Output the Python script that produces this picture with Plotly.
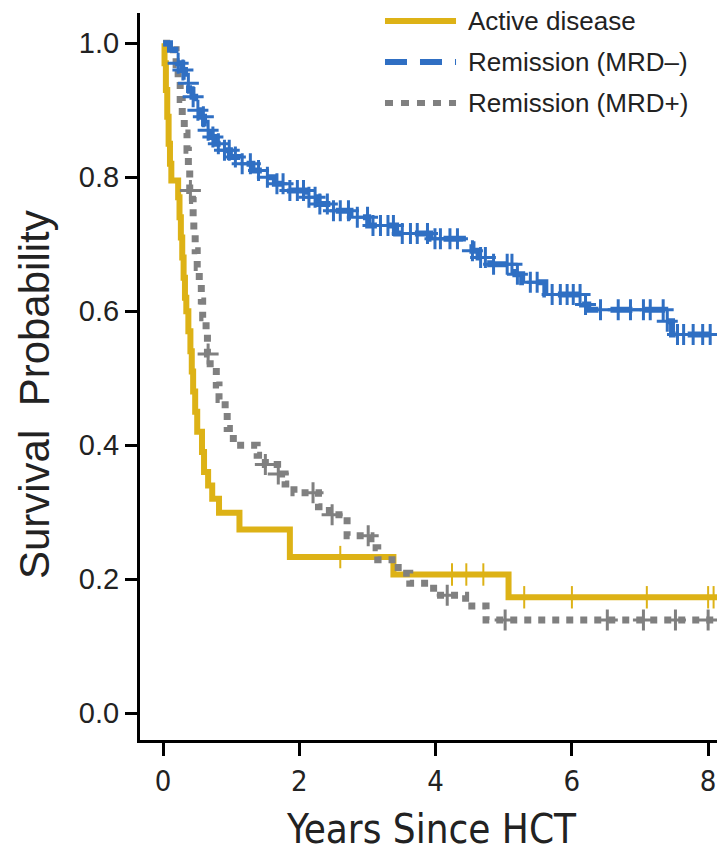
import numpy as np
import plotly.graph_objects as go

# Kaplan-Meier step curves: event times (years) and survival after each step
active_t = [0.0, 0.02, 0.04, 0.06, 0.08, 0.10, 0.12, 0.22, 0.24, 0.26, 0.28, 0.30, 0.32,
            0.34, 0.37, 0.40, 0.42, 0.44, 0.47, 0.50, 0.57, 0.60, 0.66, 0.72, 0.82,
            1.12, 1.86, 3.38, 5.07]
active_s = [1.0, 0.97, 0.93, 0.89, 0.85, 0.82, 0.795, 0.77, 0.74, 0.71, 0.68, 0.65, 0.62,
            0.60, 0.57, 0.54, 0.51, 0.48, 0.45, 0.42, 0.39, 0.36, 0.34, 0.32, 0.299,
            0.274, 0.233, 0.207, 0.173]
active_cens = [2.60, 4.24, 4.45, 4.70, 5.30, 6.00, 7.10, 8.00, 8.08]

neg_t = [0.0, 0.10, 0.18, 0.22, 0.28, 0.32, 0.35, 0.38, 0.43, 0.47, 0.51, 0.56, 0.60,
         0.65, 0.71, 0.78, 0.87, 0.98, 1.13, 1.31, 1.45, 1.64, 1.86, 2.09, 2.28, 2.50,
         2.75, 3.01, 3.42, 3.92, 4.40, 4.54, 4.63, 4.80, 5.17, 5.27, 5.61, 6.15, 6.24,
         7.37, 7.47]
neg_s = [1.0, 0.99, 0.98, 0.97, 0.96, 0.95, 0.94, 0.93, 0.92, 0.91, 0.90, 0.89, 0.88,
         0.87, 0.86, 0.85, 0.84, 0.83, 0.82, 0.81, 0.80, 0.79, 0.78, 0.77, 0.76, 0.75,
         0.74, 0.728, 0.716, 0.708, 0.70, 0.69, 0.68, 0.67, 0.655, 0.643, 0.625, 0.61,
         0.602, 0.585, 0.565]
neg_cens = [0.22, 0.29, 0.37, 0.44, 0.51, 0.59, 0.66, 0.73, 0.81, 0.90, 0.97, 1.06,
            1.16, 1.28, 1.40, 1.53, 1.67, 1.76, 1.86, 1.97, 2.06, 2.14, 2.23, 2.30,
            2.41, 2.50, 2.60, 2.72, 2.85, 3.00, 3.08, 3.19, 3.30, 3.38, 3.51, 3.63,
            3.73, 3.88, 3.99, 4.07, 4.21, 4.32, 4.54, 4.66, 4.73, 4.85, 5.05, 5.12,
            5.20, 5.39, 5.49, 5.71, 5.83, 5.93, 6.02, 6.12, 6.20, 6.42, 6.68, 6.86,
            7.05, 7.15, 7.34, 7.40, 7.55, 7.64, 7.78, 7.92, 8.03]

pos_t = [0.0, 0.15, 0.19, 0.22, 0.25, 0.28, 0.31, 0.35, 0.37, 0.39, 0.43, 0.44, 0.45,
         0.47, 0.50, 0.53, 0.56, 0.58, 0.63, 0.65, 0.69, 0.78, 0.82, 0.91, 0.94, 1.03,
         1.38, 1.50, 1.68, 1.79, 1.92, 2.28, 2.44, 2.70, 3.05, 3.15, 3.45, 3.62, 3.97,
         4.44, 4.74]
pos_s = [1.0, 0.99, 0.968, 0.943, 0.916, 0.89, 0.866, 0.84, 0.815, 0.78, 0.765, 0.74,
         0.715, 0.69, 0.665, 0.64, 0.615, 0.59, 0.565, 0.536, 0.51, 0.49, 0.468, 0.45,
         0.425, 0.40, 0.385, 0.371, 0.357, 0.342, 0.329, 0.308, 0.296, 0.265, 0.247,
         0.229, 0.209, 0.194, 0.176, 0.16, 0.139]
pos_cens = [0.40, 0.66, 1.50, 1.69, 2.20, 2.48, 3.01, 4.17, 5.02, 6.52, 7.05, 7.52, 8.00]

follow_up_end = 8.2

x_ticks = [0, 2, 4, 6, 8]
y_ticks = [0.0, 0.2, 0.4, 0.6, 0.8, 1.0]
legend_names = ["Active disease", "Remission (MRD\u2013)", "Remission (MRD+)"]

GOLD = "#DDB216"
BLUE = "#2F6FC3"
GRAY = "#808080"
TEXT = "#222222"
CONDENSED = "'DejaVu Sans Condensed', 'Roboto Condensed', Roboto, sans-serif"


def surv_at(times, surv, t):
    idx = np.searchsorted(np.asarray(times), np.asarray(t), side="right") - 1
    return np.asarray(surv)[idx]


def curve(times, surv, color, dash, width):
    return go.Scatter(
        x=list(times) + [follow_up_end],
        y=list(surv) + [surv[-1]],
        mode="lines",
        line=dict(color=color, width=width, dash=dash, shape="hv"),
        hoverinfo="skip",
        showlegend=False,
    )


def censor(times, surv, cens, color, symbol, size, lw):
    return go.Scatter(
        x=cens,
        y=surv_at(times, surv, cens),
        mode="markers",
        marker=dict(symbol=symbol, size=size, color=color,
                    line=dict(color=color, width=lw)),
        hoverinfo="skip",
        showlegend=False,
        cliponaxis=True,
    )


fig = go.Figure()
fig.add_trace(curve(active_t, active_s, GOLD, "solid", 6))
fig.add_trace(censor(active_t, active_s, active_cens, GOLD, "line-ns", 16, 2))
fig.add_trace(curve(pos_t, pos_s, GRAY, "7px,7px", 7))
fig.add_trace(censor(pos_t, pos_s, pos_cens, GRAY, "cross-thin", 15, 3))
fig.add_trace(curve(neg_t, neg_s, BLUE, "22px,12px", 6))
fig.add_trace(censor(neg_t, neg_s, neg_cens, BLUE, "cross-thin", 15, 3))

# legend drawn as line samples plus labels
legend_y = [0.989, 0.9326, 0.8762]
legend_styles = [(GOLD, "solid"), (BLUE, "22px,13px"), (GRAY, "8px,8px")]
for name, yv, (col, dsh) in zip(legend_names, legend_y, legend_styles):
    fig.add_shape(type="line", xref="paper", yref="paper",
                  x0=0.4246, x1=0.5477, y0=yv, y1=yv,
                  line=dict(color=col, width=6, dash=dsh))
    fig.add_annotation(xref="paper", yref="paper", x=0.5650, y=yv,
                       xanchor="left", yanchor="middle", showarrow=False,
                       text=name, font=dict(family="Liberation Sans", size=26, color=TEXT))

# axis titles
fig.add_annotation(xref="paper", yref="paper", x=0.505, y=-0.122,
                   xanchor="center", yanchor="middle", showarrow=False,
                   text="Years Since HCT",
                   font=dict(family=CONDENSED, size=40, color=TEXT))
fig.add_annotation(xref="paper", yref="paper", x=-0.183, y=0.475,
                   xanchor="center", yanchor="middle", showarrow=False, textangle=-90,
                   text="Survival  Probability",
                   font=dict(family="Liberation Sans", size=42, color=TEXT))

fig.update_layout(
    width=717, height=855,
    margin=dict(l=140, r=0, t=13, b=115),
    paper_bgcolor="white", plot_bgcolor="white",
    showlegend=False,
)
fig.update_xaxes(
    range=[-0.34, 8.13], tickvals=x_ticks, ticktext=[str(v) for v in x_ticks],
    showline=True, linewidth=3, linecolor="black",
    ticks="outside", ticklen=13, tickwidth=2.5, tickcolor="black",
    tickfont=dict(family=CONDENSED, size=29, color=TEXT),
    showgrid=False, zeroline=False,
)
fig.update_yaxes(
    range=[-0.04, 1.045], tickvals=y_ticks, ticktext=[f"{v:.1f}" for v in y_ticks],
    showline=True, linewidth=3, linecolor="black",
    ticks="outside", ticklen=12, tickwidth=2.5, tickcolor="black",
    tickfont=dict(family="Liberation Sans", size=29, color=TEXT),
    showgrid=False, zeroline=False,
)

fig.write_html("out.html")
